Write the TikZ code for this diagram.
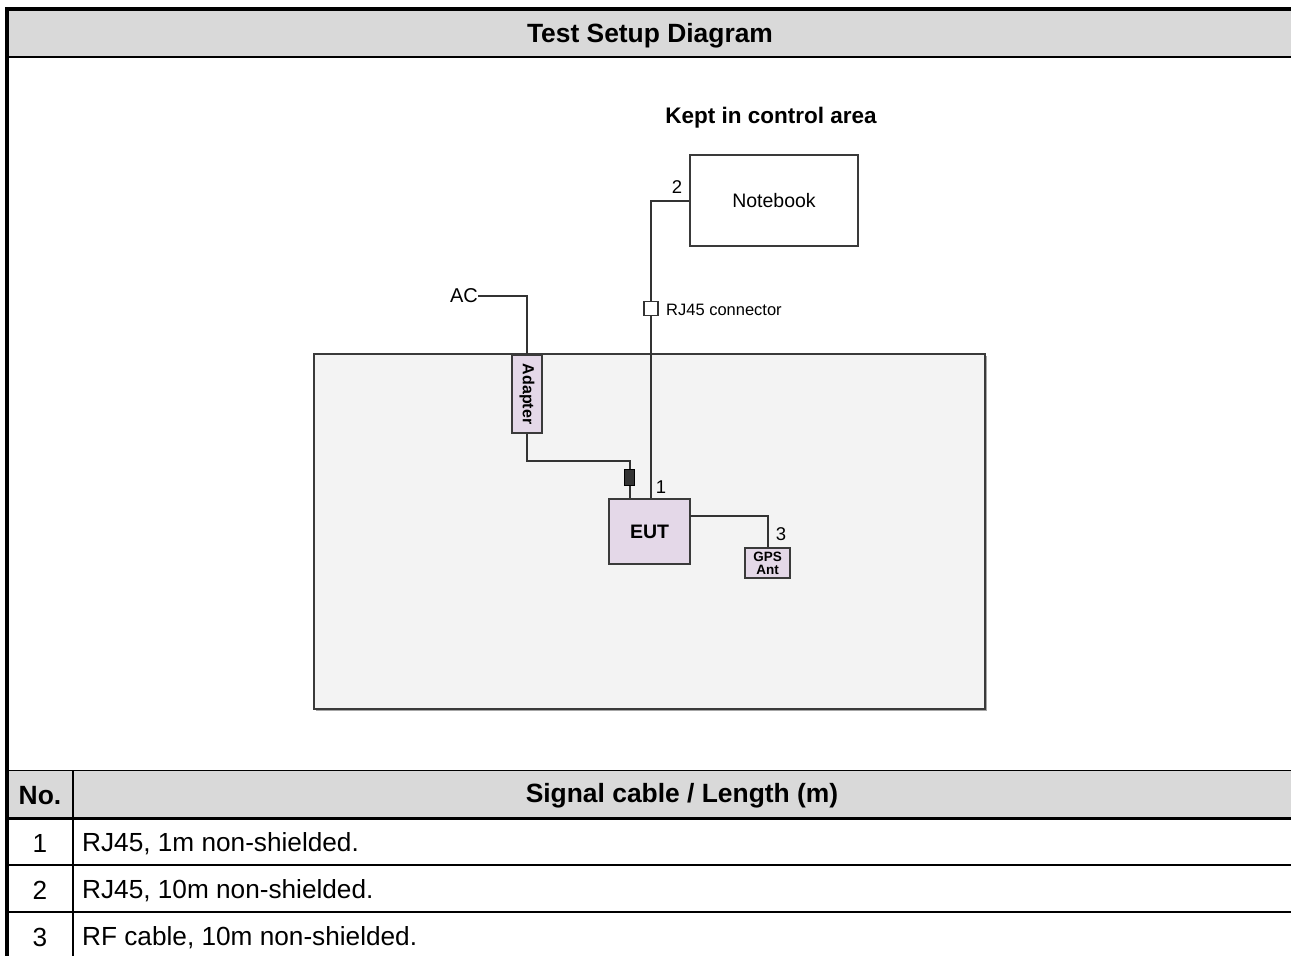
\documentclass[tikz,border=0pt]{standalone}
\usepackage{fontspec}
\setmainfont{Liberation Sans}
\definecolor{hdr}{HTML}{D9D9D9}
\definecolor{lav}{HTML}{E4D8E8}
\definecolor{room}{HTML}{F3F3F3}
\definecolor{wire}{HTML}{333333}
\definecolor{edge}{HTML}{3A3A3A}
\tikzset{
  fs/.style={font=\fontsize{#1}{#1}\selectfont},
  fsb/.style={font=\fontsize{#1}{#1}\selectfont\bfseries},
  cable/.style={draw=wire, line width=2pt},
  devbox/.style={draw=edge, line width=1.8pt, fill=lav, inner sep=0pt},
  plainbox/.style={draw=edge, line width=1.6pt, fill=white, inner sep=0pt},
  lbl/.style={inner sep=0pt, text=black},
  tline/.style={draw=black},
}
\begin{document}
\begin{tikzpicture}[x=1pt,y=-1pt]
\useasboundingbox (0,0) rectangle (1291,956);
\fill[white] (0,0) rectangle (1291,956);
% ---------- table frame ----------
\fill[hdr] (9,11) rectangle (1291,57);
\fill[hdr] (9,770) rectangle (1291,818);
\draw[tline, line width=2pt] (9,57) -- (1291,57);
\draw[tline, line width=1pt] (9,770) -- (1291,770);
\draw[tline, line width=2.2pt] (9,818.5) -- (1291,818.5);
\draw[tline, line width=2pt] (9,865) -- (1291,865);
\draw[tline, line width=2pt] (9,912) -- (1291,912);
\draw[tline, line width=1.5pt] (73,770) -- (73,956);
\draw[tline, line width=4pt] (5,9) -- (1291,9);
\draw[tline, line width=4pt] (7,7) -- (7,956);
\node[lbl, fsb=26.4] (title) at (650,36) {Test Setup Diagram};
\node[lbl, fsb=26.4] (hno) at (40,796) {No.};
\node[lbl, fsb=26.4] (hsig) at (682,796) {Signal cable / Length (m)};
\node[lbl, fs=26.2] (n1) at (40,843) {1};
\node[lbl, fs=26.2] (n2) at (40,890) {2};
\node[lbl, fs=26.2] (n3) at (40,937) {3};
\node[lbl, fs=26.2, anchor=west] (r1) at (82,844) {RJ45, 1m non-shielded.};
\node[lbl, fs=26.2, anchor=west] (r2) at (82,891) {RJ45, 10m non-shielded.};
\node[lbl, fs=26.2, anchor=west] (r3) at (82,938) {RF cable, 10m non-shielded.};
% ---------- diagram ----------
\fill[black!35] (316,356) rectangle (986.5,710.5);
\draw[draw=edge, line width=1.4pt, fill=room] (314,354) rectangle (985,709);
\node[lbl, fsb=22.5] (kept) at (771,118) {Kept in control area};
\node[plainbox, minimum width=168pt, minimum height=91pt, fs=19.5] (nb) at (774,200.5) {Notebook};
\node[devbox, minimum width=81pt, minimum height=65pt, fsb=19.5] (eut) at (649.5,531.5) {EUT};
\node[devbox, minimum width=45pt, minimum height=30pt, inner sep=0pt] (gps) at (767.5,563) {};
\node[lbl, fsb=13.5] (gpst) at (767.5,556.5) {GPS};
\node[lbl, fsb=13.5] (antt) at (767.5,569.5) {Ant};
\node[devbox, minimum width=30pt, minimum height=78pt] (adp) at (527,394) {};
\node[lbl, rotate=-90, fsb=16] (adptxt) at (adp.center) {Adapter};
\node[draw=black, fill=wire, line width=1pt, minimum width=10pt, minimum height=16pt, inner sep=0pt] (fer) at (629.5,477) {};
\node[draw=wire, fill=white, line width=1.4pt, minimum width=14pt, minimum height=14pt, inner sep=0pt] (rj) at (651,308.5) {};
\node[lbl, fs=20, anchor=east] (ac) at (478,296) {AC};
\node[lbl, fs=16.5, anchor=west] (rjtxt) at (666,310) {RJ45 connector};
\node[lbl, fs=18.5] (c2) at (677,187) {2};
\node[lbl, fs=18.5] (c1) at (661,487) {1};
\node[lbl, fs=18.5] (c3) at (781,534) {3};
\coordinate (fbend) at (629.5,461);
\coordinate (eutout) at (690,516);
% cables
\draw[cable] (ac.east) -| (adp.north);
\draw[cable] (adp.south) |- (fbend) -- (fer.north);
\draw[cable] (fer.south) -- (fer.south |- eut.north);
\draw[cable] (nb.west) -| (rj.north);
\draw[cable] (rj.south) -- (rj.south |- eut.north);
\draw[cable] (eutout) -| (gps.north);
\end{tikzpicture}
\end{document}
